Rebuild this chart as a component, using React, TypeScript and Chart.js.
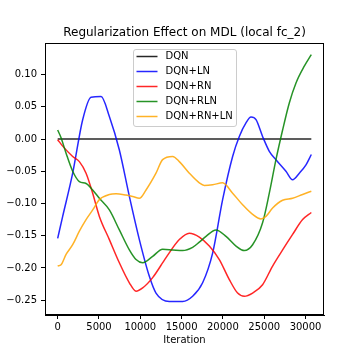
import React, { useEffect, useRef } from "react";
import { Chart, registerables } from "chart.js";
Chart.register(...registerables);

const TITLE = "Regularization Effect on MDL (local fc_2)";
const X_LABEL = "Iteration";
const Y_LABEL = "MDL";

const X_TICKS = [0, 5000, 10000, 15000, 20000, 25000, 30000];
const Y_TICKS = [-0.25, -0.2, -0.15, -0.1, -0.05, 0, 0.05, 0.1];

const SERIES_NAMES = ["DQN", "DQN+LN", "DQN+RN", "DQN+RLN", "DQN+RN+LN"];
const SERIES_COLORS = [
  "rgba(0,0,0,0.85)",
  "rgba(0,0,255,0.85)",
  "rgba(255,0,0,0.85)",
  "rgba(0,128,0,0.85)",
  "rgba(255,165,0,0.85)",
];

const dqnIter = [0, 30700];
const dqnMDL = [0, 0];

const lnIter = [0, 605, 1815, 3025, 4040, 5250, 6255, 7465, 8675, 9885, 11095, 11900, 13515, 15125, 16335, 17545, 18755, 19965, 21175, 21985, 22790, 23400, 24005, 24800, 25615, 26420, 27630, 28435, 29245, 30055, 30700];
const lnMDL = [-0.154, -0.120, -0.053, 0.030, 0.065, 0.066, 0.035, -0.017, -0.089, -0.156, -0.213, -0.239, -0.252, -0.252, -0.244, -0.223, -0.177, -0.094, -0.027, 0.004, 0.025, 0.034, 0.030, 0.004, -0.019, -0.032, -0.050, -0.063, -0.053, -0.040, -0.024];

const rnIter = [0, 605, 1815, 2625, 3435, 4235, 5045, 6255, 7465, 8675, 9485, 10285, 11495, 13115, 14725, 15935, 17145, 18355, 19565, 20775, 21780, 22590, 23595, 24800, 26015, 27225, 28435, 29645, 30700];
const rnMDL = [-0.001, -0.011, -0.027, -0.035, -0.053, -0.084, -0.120, -0.156, -0.192, -0.223, -0.236, -0.231, -0.215, -0.184, -0.156, -0.146, -0.152, -0.166, -0.187, -0.218, -0.239, -0.244, -0.239, -0.226, -0.197, -0.172, -0.148, -0.125, -0.114];

const rlnIter = [0, 410, 1015, 1815, 2625, 3435, 4235, 5045, 6255, 7465, 8675, 9485, 10285, 11495, 12700, 13915, 15125, 16335, 17145, 17955, 19165, 20375, 21585, 22590, 23595, 24800, 25615, 26420, 27225, 28035, 28845, 29850, 30700];
const rlnMDL = [0.014, 0.002, -0.022, -0.050, -0.066, -0.069, -0.079, -0.092, -0.110, -0.141, -0.172, -0.187, -0.192, -0.182, -0.171, -0.172, -0.173, -0.168, -0.160, -0.151, -0.141, -0.151, -0.166, -0.173, -0.164, -0.130, -0.084, -0.032, 0.014, 0.056, 0.087, 0.113, 0.131];

const rnlnIter = [0, 410, 1015, 1815, 2625, 3435, 4235, 5045, 6255, 7065, 8275, 9075, 9885, 10695, 11900, 12700, 13915, 14725, 15935, 17145, 17750, 18755, 19965, 21175, 22385, 23595, 24600, 25210, 26015, 27225, 28435, 29645, 30700];
const rnlnMDL = [-0.197, -0.195, -0.179, -0.164, -0.143, -0.125, -0.110, -0.094, -0.086, -0.085, -0.087, -0.089, -0.092, -0.079, -0.053, -0.032, -0.027, -0.035, -0.053, -0.068, -0.072, -0.071, -0.068, -0.084, -0.102, -0.117, -0.124, -0.120, -0.107, -0.095, -0.092, -0.086, -0.081];

const SERIES_ITERS = [dqnIter, lnIter, rnIter, rlnIter, rnlnIter];
const SERIES_VALUES = [dqnMDL, lnMDL, rnMDL, rlnMDL, rnlnMDL];

const FONT = '"DejaVu Sans", sans-serif';

const decorPlugin = {
  id: "decor",
  afterDraw(chart: any) {
    const ctx = chart.ctx as CanvasRenderingContext2D;
    const a = chart.chartArea;
    ctx.save();
    // frame
    ctx.strokeStyle = "#000";
    ctx.lineWidth = 1;
    ctx.strokeRect(Math.round(a.left) + 0.5, Math.round(a.top) + 0.5, Math.round(a.right - a.left) - 1, Math.round(a.bottom - a.top) - 1);
    // title
    ctx.fillStyle = "#000";
    ctx.textAlign = "center";
    ctx.textBaseline = "middle";
    ctx.font = `12px ${FONT}`;
    ctx.fillText(TITLE, (a.left + a.right) / 2, 33);
    // x label
    ctx.font = `10px ${FONT}`;
    ctx.fillText(X_LABEL, (a.left + a.right) / 2, 340);
    // y label
    ctx.save();
    ctx.translate(-3, (a.top + a.bottom) / 2);
    ctx.rotate(-Math.PI / 2);
    ctx.fillText(Y_LABEL, 0, 0);
    ctx.restore();
    // legend
    const lx = 133.5, ly = 49.5, lw = 103, lh = 77, r = 2.5;
    ctx.beginPath();
    ctx.moveTo(lx + r, ly);
    ctx.lineTo(lx + lw - r, ly);
    ctx.quadraticCurveTo(lx + lw, ly, lx + lw, ly + r);
    ctx.lineTo(lx + lw, ly + lh - r);
    ctx.quadraticCurveTo(lx + lw, ly + lh, lx + lw - r, ly + lh);
    ctx.lineTo(lx + r, ly + lh);
    ctx.quadraticCurveTo(lx, ly + lh, lx, ly + lh - r);
    ctx.lineTo(lx, ly + r);
    ctx.quadraticCurveTo(lx, ly, lx + r, ly);
    ctx.closePath();
    ctx.fillStyle = "rgba(255,255,255,0.8)";
    ctx.fill();
    ctx.strokeStyle = "#cccccc";
    ctx.lineWidth = 1;
    ctx.stroke();
    ctx.textAlign = "left";
    ctx.textBaseline = "middle";
    ctx.font = `10px ${FONT}`;
    SERIES_NAMES.forEach((name, i) => {
      const y = 56.5 + i * 15;
      ctx.strokeStyle = SERIES_COLORS[i];
      ctx.lineWidth = 1.5;
      ctx.beginPath();
      ctx.moveTo(136.5, y);
      ctx.lineTo(157.5, y);
      ctx.stroke();
      ctx.fillStyle = "#000";
      ctx.fillText(name, 165.5, y);
    });
    ctx.restore();
  },
};

export default function App() {
  const ref = useRef<HTMLCanvasElement | null>(null);
  useEffect(() => {
    if (!ref.current) return;
    const datasets = SERIES_NAMES.map((name, i) => ({
      label: name,
      data: SERIES_ITERS[i].map((x, j) => ({ x, y: SERIES_VALUES[i][j] })),
      borderColor: SERIES_COLORS[i],
      backgroundColor: SERIES_COLORS[i],
      borderWidth: 1.5,
      pointRadius: 0,
      fill: false,
      cubicInterpolationMode: "monotone" as const,
      order: SERIES_NAMES.length - i,
    }));
    const chart = new Chart(ref.current, {
      type: "line",
      data: { datasets },
      options: {
        responsive: false,
        animation: false,
        devicePixelRatio: 1,
        layout: { padding: { left: 0, right: 36, top: 43, bottom: 0 } },
        plugins: { legend: { display: false }, title: { display: false }, tooltip: { enabled: false } },
        scales: {
          x: {
            type: "linear",
            min: -1535,
            max: 32235,
            afterBuildTicks: (s: any) => { s.ticks = X_TICKS.map((v) => ({ value: v })); },
            afterFit: (s: any) => { s.height = 45; },
            ticks: {
              callback: (v: any) => String(v),
              font: { family: FONT, size: 10 },
              color: "#000",
              padding: 2,
              maxRotation: 0,
              autoSkip: false,
            },
            grid: { drawOnChartArea: false, drawTicks: true, tickLength: 4, color: "#000" },
            border: { display: true, color: "#000" },
          },
          y: {
            type: "linear",
            min: -0.273,
            max: 0.149,
            afterBuildTicks: (s: any) => { s.ticks = Y_TICKS.map((v) => ({ value: v })); },
            afterFit: (s: any) => { s.width = 45; },
            ticks: {
              callback: (v: any) => (v < -1e-9 ? "\u2212" : "") + Math.abs(v).toFixed(2),
              font: { family: FONT, size: 10 },
              color: "#000",
              padding: 4,
              autoSkip: false,
            },
            grid: { drawOnChartArea: false, drawTicks: true, tickLength: 4, color: "#000" },
            border: { display: true, color: "#000" },
          },
        },
      },
      plugins: [decorPlugin],
    });
    return () => chart.destroy();
  }, []);
  return (
    <div style={{ position: "fixed", left: 0, top: 0, width: 360, height: 360, background: "#fff" }}>
      <canvas ref={ref} width={360} height={360} style={{ width: 360, height: 360, display: "block" }} />
    </div>
  );
}
